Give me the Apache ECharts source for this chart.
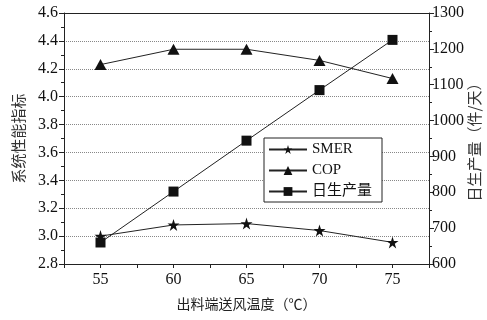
<!DOCTYPE html>
<html><head><meta charset="utf-8">
<script src="https://cdn.jsdelivr.net/npm/echarts@6/dist/echarts.min.js"></script>
<style>html,body{margin:0;padding:0;background:#fff}#c{width:487px;height:320px}</style>
</head><body><div id="c"></div>
<script>
const temps = [55, 60, 65, 70, 75];
const smer = [3.00, 3.08, 3.09, 3.04, 2.955];
const cop = [4.23, 4.34, 4.34, 4.26, 4.13];
const output = [660, 802, 944, 1085, 1225];
const seriesNames = ['SMER', 'COP', '日生产量'];
const xName = '出料端送风温度（℃）';
const yLeftName = '系统性能指标';
const yRightName = '日生产量（件/天）';

const FONT = "'Liberation Serif', 'Times New Roman', 'Noto Sans CJK SC', serif";
const CJK = "'Noto Sans CJK SC', 'Liberation Serif', serif";
const chart = echarts.init(document.getElementById('c'), null, {renderer: 'canvas'});
const axisLine = {show: true, lineStyle: {color: '#222', width: 1}};
const pairs = a => temps.map((t, i) => [t, a[i]]);
const lineStyle = {color: '#222', width: 1};
chart.setOption({
  animation: false,
  backgroundColor: '#fff',
  grid: {left: 64, right: 58, top: 13, bottom: 56, show: false, containLabel: false, outerBoundsMode: 'none'},
  legend: {
    data: seriesNames,
    orient: 'vertical',
    left: 264, top: 138,
    width: 117,
    backgroundColor: '#fff',
    borderColor: '#222', borderWidth: 1,
    padding: [4, 10, 3, 4],
    itemGap: 6,
    itemWidth: 38, itemHeight: 11,
    textStyle: {fontFamily: FONT, fontSize: 15, color: '#111'}
  },
  xAxis: [{
    type: 'value', min: 52.5, max: 77.5, interval: 2.5,
    name: xName, nameLocation: 'middle', nameGap: 33, nameMoveOverlap: false,
    nameTextStyle: {fontFamily: CJK, fontSize: 14, color: '#222'},
    axisLine: axisLine,
    axisTick: {show: true, inside: false, length: 4, lineStyle: {color: '#222'}},
    axisLabel: {fontFamily: FONT, fontSize: 16, color: '#111', margin: 8,
      formatter: v => (Math.abs(v % 5) < 1e-6 ? String(v) : '')},
    splitLine: {show: false}
  }, {
    type: 'value', min: 52.5, max: 77.5, position: 'top',
    axisLine: axisLine, axisTick: {show: false}, axisLabel: {show: false}, splitLine: {show: false}
  }],
  yAxis: [{
    type: 'value', min: 2.8, max: 4.6, interval: 0.2,
    name: yLeftName, nameLocation: 'middle', nameGap: 38, nameRotate: 90, nameMoveOverlap: false,
    nameTextStyle: {fontFamily: CJK, fontSize: 15, color: '#333'},
    axisLine: axisLine,
    axisTick: {show: true, inside: false, length: 5, lineStyle: {color: '#222'}},
    minorTick: {show: true, splitNumber: 2, length: 3, lineStyle: {color: '#222'}},
    axisLabel: {fontFamily: FONT, fontSize: 16, color: '#111', margin: 6,
      formatter: v => v.toFixed(1)},
    splitLine: {show: true, lineStyle: {type: 'dotted', color: '#888', width: 1}}
  }, {
    type: 'value', min: 600, max: 1300, interval: 100, position: 'right',
    name: yRightName, nameLocation: 'middle', nameGap: 38, nameRotate: 90,
    nameMoveOverlap: false,
    nameTextStyle: {fontFamily: CJK, fontSize: 15, color: '#333'},
    axisLine: axisLine,
    axisTick: {show: true, inside: false, length: 5, lineStyle: {color: '#222'}},
    minorTick: {show: true, splitNumber: 2, length: 3, lineStyle: {color: '#222'}},
    axisLabel: {fontFamily: FONT, fontSize: 16, color: '#111', margin: 3,
      formatter: v => String(v)},
    splitLine: {show: false}
  }],
  series: [{
    name: seriesNames[0], type: 'line', xAxisIndex: 0, yAxisIndex: 0,
    data: pairs(smer), symbol: 'path://M0,-1L0.2245,-0.309L0.951,-0.309L0.363,0.118L0.588,0.809L0,0.382L-0.588,0.809L-0.363,0.118L-0.951,-0.309L-0.2245,-0.309Z', symbolSize: 12,
    lineStyle: lineStyle, itemStyle: {color: '#111'}
  }, {
    name: seriesNames[1], type: 'line', xAxisIndex: 0, yAxisIndex: 0,
    data: pairs(cop), symbol: 'triangle', symbolSize: [12, 11],
    lineStyle: lineStyle, itemStyle: {color: '#111'}
  }, {
    name: seriesNames[2], type: 'line', xAxisIndex: 0, yAxisIndex: 1,
    data: pairs(output), symbol: 'rect', symbolSize: 10,
    lineStyle: lineStyle, itemStyle: {color: '#111'}
  }]
});
</script></body></html>
